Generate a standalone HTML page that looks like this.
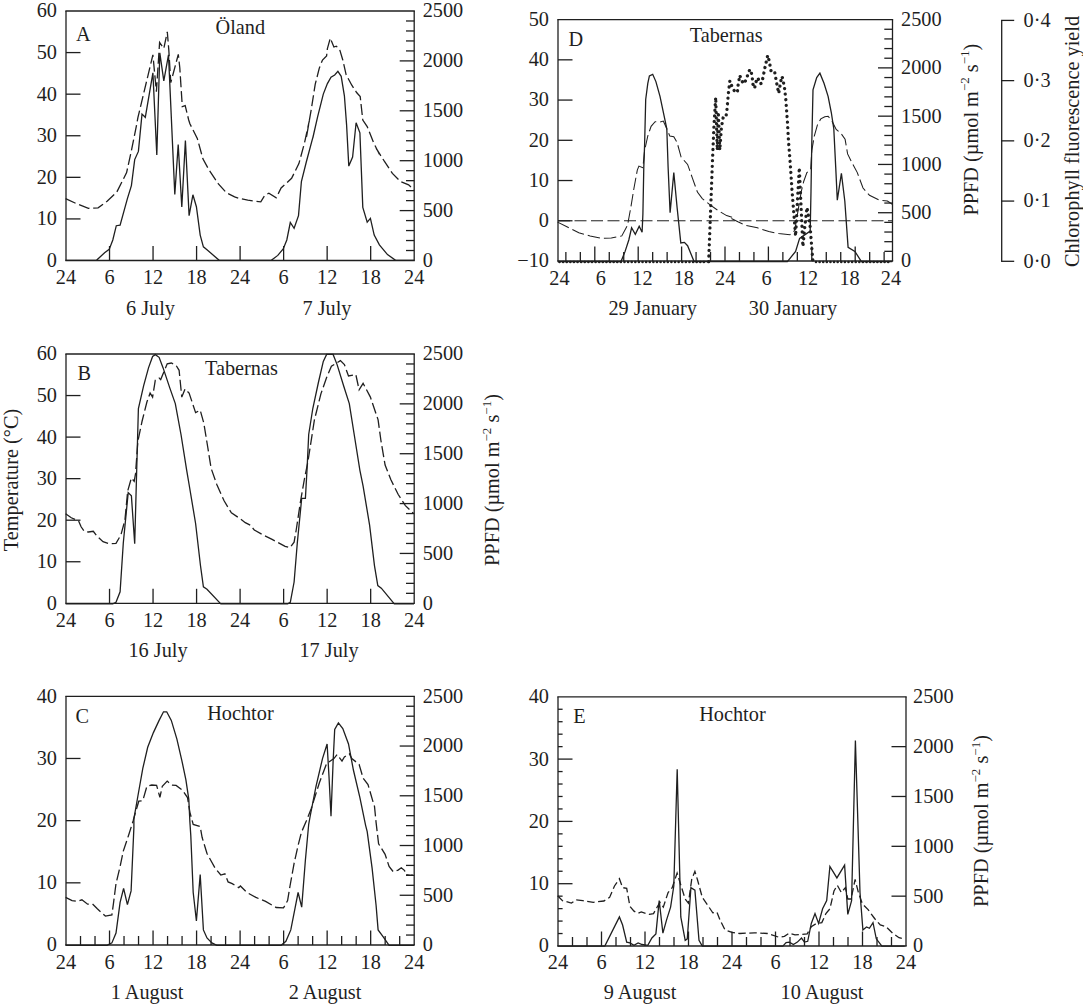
<!DOCTYPE html>
<html><head><meta charset="utf-8"><title>Figure</title>
<style>
html,body{margin:0;padding:0;background:#fff;}
svg{display:block;}
svg text{font-family:"Liberation Serif","DejaVu Serif",serif;font-size:20.3px;fill:#1f1f1f;}
svg line,svg polyline{stroke:#1f1f1f;}
</style></head><body>
<svg width="1083" height="1004" viewBox="0 0 1083 1004">
<rect width="1083" height="1004" fill="#fff"/>
<line x1="65.35" y1="11.00" x2="414.85" y2="11.00" stroke-width="1.3"/>
<line x1="65.35" y1="260.50" x2="414.85" y2="260.50" stroke-width="1.3"/>
<line x1="66.00" y1="11.00" x2="66.00" y2="260.50" stroke-width="1.3"/>
<line x1="414.20" y1="11.00" x2="414.20" y2="260.50" stroke-width="1.3"/>
<text x="57.00" y="266.90" text-anchor="end">0</text>
<line x1="66.00" y1="218.92" x2="80.50" y2="218.92" stroke-width="1.3"/>
<text x="57.00" y="225.32" text-anchor="end">10</text>
<line x1="66.00" y1="177.33" x2="80.50" y2="177.33" stroke-width="1.3"/>
<text x="57.00" y="183.73" text-anchor="end">20</text>
<line x1="66.00" y1="135.75" x2="80.50" y2="135.75" stroke-width="1.3"/>
<text x="57.00" y="142.15" text-anchor="end">30</text>
<line x1="66.00" y1="94.17" x2="80.50" y2="94.17" stroke-width="1.3"/>
<text x="57.00" y="100.57" text-anchor="end">40</text>
<line x1="66.00" y1="52.58" x2="80.50" y2="52.58" stroke-width="1.3"/>
<text x="57.00" y="58.98" text-anchor="end">50</text>
<text x="57.00" y="17.40" text-anchor="end">60</text>
<text x="422.70" y="266.90" text-anchor="start">0</text>
<line x1="399.70" y1="210.60" x2="414.20" y2="210.60" stroke-width="1.3"/>
<text x="422.70" y="217.00" text-anchor="start">500</text>
<line x1="399.70" y1="160.70" x2="414.20" y2="160.70" stroke-width="1.3"/>
<text x="422.70" y="167.10" text-anchor="start">1000</text>
<line x1="399.70" y1="110.80" x2="414.20" y2="110.80" stroke-width="1.3"/>
<text x="422.70" y="117.20" text-anchor="start">1500</text>
<line x1="399.70" y1="60.90" x2="414.20" y2="60.90" stroke-width="1.3"/>
<text x="422.70" y="67.30" text-anchor="start">2000</text>
<text x="422.70" y="17.40" text-anchor="start">2500</text>
<line x1="406.00" y1="250.52" x2="414.20" y2="250.52" stroke-width="1.3"/>
<line x1="406.00" y1="240.54" x2="414.20" y2="240.54" stroke-width="1.3"/>
<line x1="406.00" y1="230.56" x2="414.20" y2="230.56" stroke-width="1.3"/>
<line x1="406.00" y1="220.58" x2="414.20" y2="220.58" stroke-width="1.3"/>
<line x1="406.00" y1="200.62" x2="414.20" y2="200.62" stroke-width="1.3"/>
<line x1="406.00" y1="190.64" x2="414.20" y2="190.64" stroke-width="1.3"/>
<line x1="406.00" y1="180.66" x2="414.20" y2="180.66" stroke-width="1.3"/>
<line x1="406.00" y1="170.68" x2="414.20" y2="170.68" stroke-width="1.3"/>
<line x1="406.00" y1="150.72" x2="414.20" y2="150.72" stroke-width="1.3"/>
<line x1="406.00" y1="140.74" x2="414.20" y2="140.74" stroke-width="1.3"/>
<line x1="406.00" y1="130.76" x2="414.20" y2="130.76" stroke-width="1.3"/>
<line x1="406.00" y1="120.78" x2="414.20" y2="120.78" stroke-width="1.3"/>
<line x1="406.00" y1="100.82" x2="414.20" y2="100.82" stroke-width="1.3"/>
<line x1="406.00" y1="90.84" x2="414.20" y2="90.84" stroke-width="1.3"/>
<line x1="406.00" y1="80.86" x2="414.20" y2="80.86" stroke-width="1.3"/>
<line x1="406.00" y1="70.88" x2="414.20" y2="70.88" stroke-width="1.3"/>
<line x1="406.00" y1="50.92" x2="414.20" y2="50.92" stroke-width="1.3"/>
<line x1="406.00" y1="40.94" x2="414.20" y2="40.94" stroke-width="1.3"/>
<line x1="406.00" y1="30.96" x2="414.20" y2="30.96" stroke-width="1.3"/>
<line x1="406.00" y1="20.98" x2="414.20" y2="20.98" stroke-width="1.3"/>
<line x1="65.35" y1="354.00" x2="414.85" y2="354.00" stroke-width="1.3"/>
<line x1="65.35" y1="603.30" x2="414.85" y2="603.30" stroke-width="1.3"/>
<line x1="66.00" y1="354.00" x2="66.00" y2="603.30" stroke-width="1.3"/>
<line x1="414.20" y1="354.00" x2="414.20" y2="603.30" stroke-width="1.3"/>
<text x="57.00" y="609.70" text-anchor="end">0</text>
<line x1="66.00" y1="561.75" x2="80.50" y2="561.75" stroke-width="1.3"/>
<text x="57.00" y="568.15" text-anchor="end">10</text>
<line x1="66.00" y1="520.20" x2="80.50" y2="520.20" stroke-width="1.3"/>
<text x="57.00" y="526.60" text-anchor="end">20</text>
<line x1="66.00" y1="478.65" x2="80.50" y2="478.65" stroke-width="1.3"/>
<text x="57.00" y="485.05" text-anchor="end">30</text>
<line x1="66.00" y1="437.10" x2="80.50" y2="437.10" stroke-width="1.3"/>
<text x="57.00" y="443.50" text-anchor="end">40</text>
<line x1="66.00" y1="395.55" x2="80.50" y2="395.55" stroke-width="1.3"/>
<text x="57.00" y="401.95" text-anchor="end">50</text>
<text x="57.00" y="360.40" text-anchor="end">60</text>
<text x="422.70" y="609.70" text-anchor="start">0</text>
<line x1="399.70" y1="553.44" x2="414.20" y2="553.44" stroke-width="1.3"/>
<text x="422.70" y="559.84" text-anchor="start">500</text>
<line x1="399.70" y1="503.58" x2="414.20" y2="503.58" stroke-width="1.3"/>
<text x="422.70" y="509.98" text-anchor="start">1000</text>
<line x1="399.70" y1="453.72" x2="414.20" y2="453.72" stroke-width="1.3"/>
<text x="422.70" y="460.12" text-anchor="start">1500</text>
<line x1="399.70" y1="403.86" x2="414.20" y2="403.86" stroke-width="1.3"/>
<text x="422.70" y="410.26" text-anchor="start">2000</text>
<text x="422.70" y="360.40" text-anchor="start">2500</text>
<line x1="406.00" y1="593.33" x2="414.20" y2="593.33" stroke-width="1.3"/>
<line x1="406.00" y1="583.36" x2="414.20" y2="583.36" stroke-width="1.3"/>
<line x1="406.00" y1="573.38" x2="414.20" y2="573.38" stroke-width="1.3"/>
<line x1="406.00" y1="563.41" x2="414.20" y2="563.41" stroke-width="1.3"/>
<line x1="406.00" y1="543.47" x2="414.20" y2="543.47" stroke-width="1.3"/>
<line x1="406.00" y1="533.50" x2="414.20" y2="533.50" stroke-width="1.3"/>
<line x1="406.00" y1="523.52" x2="414.20" y2="523.52" stroke-width="1.3"/>
<line x1="406.00" y1="513.55" x2="414.20" y2="513.55" stroke-width="1.3"/>
<line x1="406.00" y1="493.61" x2="414.20" y2="493.61" stroke-width="1.3"/>
<line x1="406.00" y1="483.64" x2="414.20" y2="483.64" stroke-width="1.3"/>
<line x1="406.00" y1="473.66" x2="414.20" y2="473.66" stroke-width="1.3"/>
<line x1="406.00" y1="463.69" x2="414.20" y2="463.69" stroke-width="1.3"/>
<line x1="406.00" y1="443.75" x2="414.20" y2="443.75" stroke-width="1.3"/>
<line x1="406.00" y1="433.78" x2="414.20" y2="433.78" stroke-width="1.3"/>
<line x1="406.00" y1="423.80" x2="414.20" y2="423.80" stroke-width="1.3"/>
<line x1="406.00" y1="413.83" x2="414.20" y2="413.83" stroke-width="1.3"/>
<line x1="406.00" y1="393.89" x2="414.20" y2="393.89" stroke-width="1.3"/>
<line x1="406.00" y1="383.92" x2="414.20" y2="383.92" stroke-width="1.3"/>
<line x1="406.00" y1="373.94" x2="414.20" y2="373.94" stroke-width="1.3"/>
<line x1="406.00" y1="363.97" x2="414.20" y2="363.97" stroke-width="1.3"/>
<line x1="65.35" y1="696.30" x2="414.85" y2="696.30" stroke-width="1.3"/>
<line x1="65.35" y1="945.00" x2="414.85" y2="945.00" stroke-width="1.3"/>
<line x1="66.00" y1="696.30" x2="66.00" y2="945.00" stroke-width="1.3"/>
<line x1="414.20" y1="696.30" x2="414.20" y2="945.00" stroke-width="1.3"/>
<text x="57.00" y="951.40" text-anchor="end">0</text>
<line x1="66.00" y1="882.83" x2="80.50" y2="882.83" stroke-width="1.3"/>
<text x="57.00" y="889.23" text-anchor="end">10</text>
<line x1="66.00" y1="820.65" x2="80.50" y2="820.65" stroke-width="1.3"/>
<text x="57.00" y="827.05" text-anchor="end">20</text>
<line x1="66.00" y1="758.47" x2="80.50" y2="758.47" stroke-width="1.3"/>
<text x="57.00" y="764.87" text-anchor="end">30</text>
<text x="57.00" y="702.70" text-anchor="end">40</text>
<text x="422.70" y="951.40" text-anchor="start">0</text>
<line x1="399.70" y1="895.26" x2="414.20" y2="895.26" stroke-width="1.3"/>
<text x="422.70" y="901.66" text-anchor="start">500</text>
<line x1="399.70" y1="845.52" x2="414.20" y2="845.52" stroke-width="1.3"/>
<text x="422.70" y="851.92" text-anchor="start">1000</text>
<line x1="399.70" y1="795.78" x2="414.20" y2="795.78" stroke-width="1.3"/>
<text x="422.70" y="802.18" text-anchor="start">1500</text>
<line x1="399.70" y1="746.04" x2="414.20" y2="746.04" stroke-width="1.3"/>
<text x="422.70" y="752.44" text-anchor="start">2000</text>
<text x="422.70" y="702.70" text-anchor="start">2500</text>
<line x1="406.00" y1="935.05" x2="414.20" y2="935.05" stroke-width="1.3"/>
<line x1="406.00" y1="925.10" x2="414.20" y2="925.10" stroke-width="1.3"/>
<line x1="406.00" y1="915.16" x2="414.20" y2="915.16" stroke-width="1.3"/>
<line x1="406.00" y1="905.21" x2="414.20" y2="905.21" stroke-width="1.3"/>
<line x1="406.00" y1="885.31" x2="414.20" y2="885.31" stroke-width="1.3"/>
<line x1="406.00" y1="875.36" x2="414.20" y2="875.36" stroke-width="1.3"/>
<line x1="406.00" y1="865.42" x2="414.20" y2="865.42" stroke-width="1.3"/>
<line x1="406.00" y1="855.47" x2="414.20" y2="855.47" stroke-width="1.3"/>
<line x1="406.00" y1="835.57" x2="414.20" y2="835.57" stroke-width="1.3"/>
<line x1="406.00" y1="825.62" x2="414.20" y2="825.62" stroke-width="1.3"/>
<line x1="406.00" y1="815.68" x2="414.20" y2="815.68" stroke-width="1.3"/>
<line x1="406.00" y1="805.73" x2="414.20" y2="805.73" stroke-width="1.3"/>
<line x1="406.00" y1="785.83" x2="414.20" y2="785.83" stroke-width="1.3"/>
<line x1="406.00" y1="775.88" x2="414.20" y2="775.88" stroke-width="1.3"/>
<line x1="406.00" y1="765.94" x2="414.20" y2="765.94" stroke-width="1.3"/>
<line x1="406.00" y1="755.99" x2="414.20" y2="755.99" stroke-width="1.3"/>
<line x1="406.00" y1="736.09" x2="414.20" y2="736.09" stroke-width="1.3"/>
<line x1="406.00" y1="726.14" x2="414.20" y2="726.14" stroke-width="1.3"/>
<line x1="406.00" y1="716.20" x2="414.20" y2="716.20" stroke-width="1.3"/>
<line x1="406.00" y1="706.25" x2="414.20" y2="706.25" stroke-width="1.3"/>
<line x1="557.35" y1="19.60" x2="893.15" y2="19.60" stroke-width="1.3"/>
<line x1="557.35" y1="261.00" x2="893.15" y2="261.00" stroke-width="1.3"/>
<line x1="558.00" y1="19.60" x2="558.00" y2="261.00" stroke-width="1.3"/>
<line x1="892.50" y1="19.60" x2="892.50" y2="261.00" stroke-width="1.3"/>
<text x="549.00" y="267.40" text-anchor="end">−10</text>
<line x1="558.00" y1="220.77" x2="572.50" y2="220.77" stroke-width="1.3"/>
<text x="549.00" y="227.17" text-anchor="end">0</text>
<line x1="558.00" y1="180.53" x2="572.50" y2="180.53" stroke-width="1.3"/>
<text x="549.00" y="186.93" text-anchor="end">10</text>
<line x1="558.00" y1="140.30" x2="572.50" y2="140.30" stroke-width="1.3"/>
<text x="549.00" y="146.70" text-anchor="end">20</text>
<line x1="558.00" y1="100.07" x2="572.50" y2="100.07" stroke-width="1.3"/>
<text x="549.00" y="106.47" text-anchor="end">30</text>
<line x1="558.00" y1="59.83" x2="572.50" y2="59.83" stroke-width="1.3"/>
<text x="549.00" y="66.23" text-anchor="end">40</text>
<text x="549.00" y="26.00" text-anchor="end">50</text>
<text x="901.00" y="267.40" text-anchor="start">0</text>
<line x1="878.00" y1="212.72" x2="892.50" y2="212.72" stroke-width="1.3"/>
<text x="901.00" y="219.12" text-anchor="start">500</text>
<line x1="878.00" y1="164.44" x2="892.50" y2="164.44" stroke-width="1.3"/>
<text x="901.00" y="170.84" text-anchor="start">1000</text>
<line x1="878.00" y1="116.16" x2="892.50" y2="116.16" stroke-width="1.3"/>
<text x="901.00" y="122.56" text-anchor="start">1500</text>
<line x1="878.00" y1="67.88" x2="892.50" y2="67.88" stroke-width="1.3"/>
<text x="901.00" y="74.28" text-anchor="start">2000</text>
<text x="901.00" y="26.00" text-anchor="start">2500</text>
<line x1="884.30" y1="251.34" x2="892.50" y2="251.34" stroke-width="1.3"/>
<line x1="884.30" y1="241.69" x2="892.50" y2="241.69" stroke-width="1.3"/>
<line x1="884.30" y1="232.03" x2="892.50" y2="232.03" stroke-width="1.3"/>
<line x1="884.30" y1="222.38" x2="892.50" y2="222.38" stroke-width="1.3"/>
<line x1="884.30" y1="203.06" x2="892.50" y2="203.06" stroke-width="1.3"/>
<line x1="884.30" y1="193.41" x2="892.50" y2="193.41" stroke-width="1.3"/>
<line x1="884.30" y1="183.75" x2="892.50" y2="183.75" stroke-width="1.3"/>
<line x1="884.30" y1="174.10" x2="892.50" y2="174.10" stroke-width="1.3"/>
<line x1="884.30" y1="154.78" x2="892.50" y2="154.78" stroke-width="1.3"/>
<line x1="884.30" y1="145.13" x2="892.50" y2="145.13" stroke-width="1.3"/>
<line x1="884.30" y1="135.47" x2="892.50" y2="135.47" stroke-width="1.3"/>
<line x1="884.30" y1="125.82" x2="892.50" y2="125.82" stroke-width="1.3"/>
<line x1="884.30" y1="106.50" x2="892.50" y2="106.50" stroke-width="1.3"/>
<line x1="884.30" y1="96.85" x2="892.50" y2="96.85" stroke-width="1.3"/>
<line x1="884.30" y1="87.19" x2="892.50" y2="87.19" stroke-width="1.3"/>
<line x1="884.30" y1="77.54" x2="892.50" y2="77.54" stroke-width="1.3"/>
<line x1="884.30" y1="58.22" x2="892.50" y2="58.22" stroke-width="1.3"/>
<line x1="884.30" y1="48.57" x2="892.50" y2="48.57" stroke-width="1.3"/>
<line x1="884.30" y1="38.91" x2="892.50" y2="38.91" stroke-width="1.3"/>
<line x1="884.30" y1="29.26" x2="892.50" y2="29.26" stroke-width="1.3"/>
<line x1="557.35" y1="696.80" x2="906.65" y2="696.80" stroke-width="1.3"/>
<line x1="557.35" y1="946.00" x2="906.65" y2="946.00" stroke-width="1.3"/>
<line x1="558.00" y1="696.80" x2="558.00" y2="946.00" stroke-width="1.3"/>
<line x1="906.00" y1="696.80" x2="906.00" y2="946.00" stroke-width="1.3"/>
<text x="549.00" y="952.40" text-anchor="end">0</text>
<line x1="558.00" y1="883.70" x2="572.50" y2="883.70" stroke-width="1.3"/>
<text x="549.00" y="890.10" text-anchor="end">10</text>
<line x1="558.00" y1="821.40" x2="572.50" y2="821.40" stroke-width="1.3"/>
<text x="549.00" y="827.80" text-anchor="end">20</text>
<line x1="558.00" y1="759.10" x2="572.50" y2="759.10" stroke-width="1.3"/>
<text x="549.00" y="765.50" text-anchor="end">30</text>
<text x="549.00" y="703.20" text-anchor="end">40</text>
<line x1="558.00" y1="933.54" x2="562.60" y2="933.54" stroke-width="1.3"/>
<line x1="558.00" y1="921.08" x2="562.60" y2="921.08" stroke-width="1.3"/>
<line x1="558.00" y1="908.62" x2="562.60" y2="908.62" stroke-width="1.3"/>
<line x1="558.00" y1="896.16" x2="562.60" y2="896.16" stroke-width="1.3"/>
<line x1="558.00" y1="871.24" x2="562.60" y2="871.24" stroke-width="1.3"/>
<line x1="558.00" y1="858.78" x2="562.60" y2="858.78" stroke-width="1.3"/>
<line x1="558.00" y1="846.32" x2="562.60" y2="846.32" stroke-width="1.3"/>
<line x1="558.00" y1="833.86" x2="562.60" y2="833.86" stroke-width="1.3"/>
<line x1="558.00" y1="808.94" x2="562.60" y2="808.94" stroke-width="1.3"/>
<line x1="558.00" y1="796.48" x2="562.60" y2="796.48" stroke-width="1.3"/>
<line x1="558.00" y1="784.02" x2="562.60" y2="784.02" stroke-width="1.3"/>
<line x1="558.00" y1="771.56" x2="562.60" y2="771.56" stroke-width="1.3"/>
<line x1="558.00" y1="746.64" x2="562.60" y2="746.64" stroke-width="1.3"/>
<line x1="558.00" y1="734.18" x2="562.60" y2="734.18" stroke-width="1.3"/>
<line x1="558.00" y1="721.72" x2="562.60" y2="721.72" stroke-width="1.3"/>
<line x1="558.00" y1="709.26" x2="562.60" y2="709.26" stroke-width="1.3"/>
<text x="913.00" y="952.40" text-anchor="start">0</text>
<line x1="891.50" y1="896.16" x2="906.00" y2="896.16" stroke-width="1.3"/>
<text x="913.00" y="902.56" text-anchor="start">500</text>
<line x1="891.50" y1="846.32" x2="906.00" y2="846.32" stroke-width="1.3"/>
<text x="913.00" y="852.72" text-anchor="start">1000</text>
<line x1="891.50" y1="796.48" x2="906.00" y2="796.48" stroke-width="1.3"/>
<text x="913.00" y="802.88" text-anchor="start">1500</text>
<line x1="891.50" y1="746.64" x2="906.00" y2="746.64" stroke-width="1.3"/>
<text x="913.00" y="753.04" text-anchor="start">2000</text>
<text x="913.00" y="703.20" text-anchor="start">2500</text>
<line x1="109.53" y1="260.50" x2="109.53" y2="246.00" stroke-width="1.3"/>
<line x1="153.05" y1="260.50" x2="153.05" y2="246.00" stroke-width="1.3"/>
<line x1="196.58" y1="260.50" x2="196.58" y2="246.00" stroke-width="1.3"/>
<line x1="240.10" y1="260.50" x2="240.10" y2="246.00" stroke-width="1.3"/>
<line x1="283.62" y1="260.50" x2="283.62" y2="246.00" stroke-width="1.3"/>
<line x1="327.15" y1="260.50" x2="327.15" y2="246.00" stroke-width="1.3"/>
<line x1="370.67" y1="260.50" x2="370.67" y2="246.00" stroke-width="1.3"/>
<line x1="109.53" y1="603.30" x2="109.53" y2="588.80" stroke-width="1.3"/>
<line x1="153.05" y1="603.30" x2="153.05" y2="588.80" stroke-width="1.3"/>
<line x1="196.58" y1="603.30" x2="196.58" y2="588.80" stroke-width="1.3"/>
<line x1="240.10" y1="603.30" x2="240.10" y2="588.80" stroke-width="1.3"/>
<line x1="283.62" y1="603.30" x2="283.62" y2="588.80" stroke-width="1.3"/>
<line x1="327.15" y1="603.30" x2="327.15" y2="588.80" stroke-width="1.3"/>
<line x1="370.67" y1="603.30" x2="370.67" y2="588.80" stroke-width="1.3"/>
<line x1="80.51" y1="945.00" x2="80.51" y2="936.00" stroke-width="1.3"/>
<line x1="95.02" y1="945.00" x2="95.02" y2="936.00" stroke-width="1.3"/>
<line x1="109.53" y1="945.00" x2="109.53" y2="930.50" stroke-width="1.3"/>
<line x1="124.03" y1="945.00" x2="124.03" y2="936.00" stroke-width="1.3"/>
<line x1="138.54" y1="945.00" x2="138.54" y2="936.00" stroke-width="1.3"/>
<line x1="153.05" y1="945.00" x2="153.05" y2="930.50" stroke-width="1.3"/>
<line x1="167.56" y1="945.00" x2="167.56" y2="936.00" stroke-width="1.3"/>
<line x1="182.07" y1="945.00" x2="182.07" y2="936.00" stroke-width="1.3"/>
<line x1="196.58" y1="945.00" x2="196.58" y2="930.50" stroke-width="1.3"/>
<line x1="211.08" y1="945.00" x2="211.08" y2="936.00" stroke-width="1.3"/>
<line x1="225.59" y1="945.00" x2="225.59" y2="936.00" stroke-width="1.3"/>
<line x1="240.10" y1="945.00" x2="240.10" y2="930.50" stroke-width="1.3"/>
<line x1="254.61" y1="945.00" x2="254.61" y2="936.00" stroke-width="1.3"/>
<line x1="269.12" y1="945.00" x2="269.12" y2="936.00" stroke-width="1.3"/>
<line x1="283.62" y1="945.00" x2="283.62" y2="930.50" stroke-width="1.3"/>
<line x1="298.13" y1="945.00" x2="298.13" y2="936.00" stroke-width="1.3"/>
<line x1="312.64" y1="945.00" x2="312.64" y2="936.00" stroke-width="1.3"/>
<line x1="327.15" y1="945.00" x2="327.15" y2="930.50" stroke-width="1.3"/>
<line x1="341.66" y1="945.00" x2="341.66" y2="936.00" stroke-width="1.3"/>
<line x1="356.17" y1="945.00" x2="356.17" y2="936.00" stroke-width="1.3"/>
<line x1="370.67" y1="945.00" x2="370.67" y2="930.50" stroke-width="1.3"/>
<line x1="385.18" y1="945.00" x2="385.18" y2="936.00" stroke-width="1.3"/>
<line x1="399.69" y1="945.00" x2="399.69" y2="936.00" stroke-width="1.3"/>
<line x1="572.50" y1="946.00" x2="572.50" y2="937.00" stroke-width="1.3"/>
<line x1="587.00" y1="946.00" x2="587.00" y2="937.00" stroke-width="1.3"/>
<line x1="601.50" y1="946.00" x2="601.50" y2="931.50" stroke-width="1.3"/>
<line x1="616.00" y1="946.00" x2="616.00" y2="937.00" stroke-width="1.3"/>
<line x1="630.50" y1="946.00" x2="630.50" y2="937.00" stroke-width="1.3"/>
<line x1="645.00" y1="946.00" x2="645.00" y2="931.50" stroke-width="1.3"/>
<line x1="659.50" y1="946.00" x2="659.50" y2="937.00" stroke-width="1.3"/>
<line x1="674.00" y1="946.00" x2="674.00" y2="937.00" stroke-width="1.3"/>
<line x1="688.50" y1="946.00" x2="688.50" y2="931.50" stroke-width="1.3"/>
<line x1="703.00" y1="946.00" x2="703.00" y2="937.00" stroke-width="1.3"/>
<line x1="717.50" y1="946.00" x2="717.50" y2="937.00" stroke-width="1.3"/>
<line x1="732.00" y1="946.00" x2="732.00" y2="931.50" stroke-width="1.3"/>
<line x1="746.50" y1="946.00" x2="746.50" y2="937.00" stroke-width="1.3"/>
<line x1="761.00" y1="946.00" x2="761.00" y2="937.00" stroke-width="1.3"/>
<line x1="775.50" y1="946.00" x2="775.50" y2="931.50" stroke-width="1.3"/>
<line x1="790.00" y1="946.00" x2="790.00" y2="937.00" stroke-width="1.3"/>
<line x1="804.50" y1="946.00" x2="804.50" y2="937.00" stroke-width="1.3"/>
<line x1="819.00" y1="946.00" x2="819.00" y2="931.50" stroke-width="1.3"/>
<line x1="833.50" y1="946.00" x2="833.50" y2="937.00" stroke-width="1.3"/>
<line x1="848.00" y1="946.00" x2="848.00" y2="937.00" stroke-width="1.3"/>
<line x1="862.50" y1="946.00" x2="862.50" y2="931.50" stroke-width="1.3"/>
<line x1="877.00" y1="946.00" x2="877.00" y2="937.00" stroke-width="1.3"/>
<line x1="891.50" y1="946.00" x2="891.50" y2="937.00" stroke-width="1.3"/>
<line x1="565.87" y1="261.00" x2="565.87" y2="252.00" stroke-width="1.3"/>
<line x1="580.33" y1="261.00" x2="580.33" y2="252.00" stroke-width="1.3"/>
<line x1="594.80" y1="261.00" x2="594.80" y2="246.50" stroke-width="1.3"/>
<line x1="609.27" y1="261.00" x2="609.27" y2="252.00" stroke-width="1.3"/>
<line x1="623.73" y1="261.00" x2="623.73" y2="252.00" stroke-width="1.3"/>
<line x1="638.20" y1="261.00" x2="638.20" y2="246.50" stroke-width="1.3"/>
<line x1="652.67" y1="261.00" x2="652.67" y2="252.00" stroke-width="1.3"/>
<line x1="667.13" y1="261.00" x2="667.13" y2="252.00" stroke-width="1.3"/>
<line x1="681.60" y1="261.00" x2="681.60" y2="246.50" stroke-width="1.3"/>
<line x1="696.07" y1="261.00" x2="696.07" y2="252.00" stroke-width="1.3"/>
<line x1="710.53" y1="261.00" x2="710.53" y2="252.00" stroke-width="1.3"/>
<line x1="725.00" y1="261.00" x2="725.00" y2="246.50" stroke-width="1.3"/>
<line x1="739.47" y1="261.00" x2="739.47" y2="252.00" stroke-width="1.3"/>
<line x1="753.93" y1="261.00" x2="753.93" y2="252.00" stroke-width="1.3"/>
<line x1="768.40" y1="261.00" x2="768.40" y2="246.50" stroke-width="1.3"/>
<line x1="782.87" y1="261.00" x2="782.87" y2="252.00" stroke-width="1.3"/>
<line x1="797.33" y1="261.00" x2="797.33" y2="252.00" stroke-width="1.3"/>
<line x1="811.80" y1="261.00" x2="811.80" y2="246.50" stroke-width="1.3"/>
<line x1="826.27" y1="261.00" x2="826.27" y2="252.00" stroke-width="1.3"/>
<line x1="840.73" y1="261.00" x2="840.73" y2="252.00" stroke-width="1.3"/>
<line x1="855.20" y1="261.00" x2="855.20" y2="246.50" stroke-width="1.3"/>
<line x1="869.67" y1="261.00" x2="869.67" y2="252.00" stroke-width="1.3"/>
<line x1="884.13" y1="261.00" x2="884.13" y2="252.00" stroke-width="1.3"/>
<text x="66.00" y="284.20" text-anchor="middle">24</text>
<text x="109.53" y="284.20" text-anchor="middle">6</text>
<text x="153.05" y="284.20" text-anchor="middle">12</text>
<text x="196.57" y="284.20" text-anchor="middle">18</text>
<text x="240.10" y="284.20" text-anchor="middle">24</text>
<text x="283.62" y="284.20" text-anchor="middle">6</text>
<text x="327.15" y="284.20" text-anchor="middle">12</text>
<text x="370.68" y="284.20" text-anchor="middle">18</text>
<text x="414.20" y="284.20" text-anchor="middle">24</text>
<text x="66.00" y="627.00" text-anchor="middle">24</text>
<text x="109.53" y="627.00" text-anchor="middle">6</text>
<text x="153.05" y="627.00" text-anchor="middle">12</text>
<text x="196.57" y="627.00" text-anchor="middle">18</text>
<text x="240.10" y="627.00" text-anchor="middle">24</text>
<text x="283.62" y="627.00" text-anchor="middle">6</text>
<text x="327.15" y="627.00" text-anchor="middle">12</text>
<text x="370.68" y="627.00" text-anchor="middle">18</text>
<text x="414.20" y="627.00" text-anchor="middle">24</text>
<text x="66.00" y="969.00" text-anchor="middle">24</text>
<text x="109.53" y="969.00" text-anchor="middle">6</text>
<text x="153.05" y="969.00" text-anchor="middle">12</text>
<text x="196.57" y="969.00" text-anchor="middle">18</text>
<text x="240.10" y="969.00" text-anchor="middle">24</text>
<text x="283.62" y="969.00" text-anchor="middle">6</text>
<text x="327.15" y="969.00" text-anchor="middle">12</text>
<text x="370.68" y="969.00" text-anchor="middle">18</text>
<text x="414.20" y="969.00" text-anchor="middle">24</text>
<text x="559.50" y="284.50" text-anchor="middle">24</text>
<text x="600.94" y="284.50" text-anchor="middle">6</text>
<text x="642.38" y="284.50" text-anchor="middle">12</text>
<text x="683.81" y="284.50" text-anchor="middle">18</text>
<text x="725.25" y="284.50" text-anchor="middle">24</text>
<text x="766.69" y="284.50" text-anchor="middle">6</text>
<text x="808.12" y="284.50" text-anchor="middle">12</text>
<text x="849.56" y="284.50" text-anchor="middle">18</text>
<text x="891.00" y="284.50" text-anchor="middle">24</text>
<text x="558.00" y="969.00" text-anchor="middle">24</text>
<text x="601.50" y="969.00" text-anchor="middle">6</text>
<text x="645.00" y="969.00" text-anchor="middle">12</text>
<text x="688.50" y="969.00" text-anchor="middle">18</text>
<text x="732.00" y="969.00" text-anchor="middle">24</text>
<text x="775.50" y="969.00" text-anchor="middle">6</text>
<text x="819.00" y="969.00" text-anchor="middle">12</text>
<text x="862.50" y="969.00" text-anchor="middle">18</text>
<text x="906.00" y="969.00" text-anchor="middle">24</text>
<text x="150.50" y="314.50" text-anchor="middle">6 July</text>
<text x="327.00" y="314.50" text-anchor="middle">7 July</text>
<text x="158.00" y="657.00" text-anchor="middle">16 July</text>
<text x="329.00" y="657.00" text-anchor="middle">17 July</text>
<text x="147.00" y="999.00" text-anchor="middle">1 August</text>
<text x="325.00" y="999.00" text-anchor="middle">2 August</text>
<text x="652.70" y="314.50" text-anchor="middle">29 January</text>
<text x="793.00" y="314.50" text-anchor="middle">30 January</text>
<text x="640.00" y="999.00" text-anchor="middle">9 August</text>
<text x="822.00" y="999.00" text-anchor="middle">10 August</text>
<text x="76.00" y="40.50" text-anchor="start">A</text>
<text x="215.50" y="34.00" text-anchor="start">Öland</text>
<text x="77.50" y="379.50" text-anchor="start">B</text>
<text x="205.00" y="375.00" text-anchor="start">Tabernas</text>
<text x="75.50" y="722.60" text-anchor="start">C</text>
<text x="207.20" y="720.40" text-anchor="start">Hochtor</text>
<text x="568.40" y="46.00" text-anchor="start">D</text>
<text x="689.70" y="41.60" text-anchor="start">Tabernas</text>
<text x="573.30" y="722.80" text-anchor="start">E</text>
<text x="699.20" y="720.60" text-anchor="start">Hochtor</text>
<text transform="translate(18.00,480.00) rotate(-90)" text-anchor="middle">Temperature (°C)</text>
<text transform="translate(499.00,480.00) rotate(-90)" text-anchor="middle">PPFD (µmol m<tspan dy="-8.5" font-size="13">−2</tspan><tspan dy="8.5"> s</tspan><tspan dy="-8.5" font-size="13">−1</tspan><tspan dy="8.5">)</tspan></text>
<text transform="translate(977.50,129.60) rotate(-90)" text-anchor="middle">PPFD (µmol m<tspan dy="-8.5" font-size="13">−2</tspan><tspan dy="8.5"> s</tspan><tspan dy="-8.5" font-size="13">−1</tspan><tspan dy="8.5">)</tspan></text>
<text transform="translate(988.40,821.00) rotate(-90)" text-anchor="middle">PPFD (µmol m<tspan dy="-8.5" font-size="13">−2</tspan><tspan dy="8.5"> s</tspan><tspan dy="-8.5" font-size="13">−1</tspan><tspan dy="8.5">)</tspan></text>
<text transform="translate(1078.50,141.50) rotate(-90)" text-anchor="middle">Chlorophyll fluorescence yield</text>
<line x1="1001.70" y1="20.40" x2="1001.70" y2="261.30" stroke-width="1.3"/>
<line x1="1001.05" y1="261.30" x2="1014.20" y2="261.30" stroke-width="1.3"/>
<text x="1023.50" y="267.70" text-anchor="start">0·0</text>
<line x1="1001.05" y1="201.08" x2="1014.20" y2="201.08" stroke-width="1.3"/>
<text x="1023.50" y="207.48" text-anchor="start">0·1</text>
<line x1="1001.05" y1="140.85" x2="1014.20" y2="140.85" stroke-width="1.3"/>
<text x="1023.50" y="147.25" text-anchor="start">0·2</text>
<line x1="1001.05" y1="80.62" x2="1014.20" y2="80.62" stroke-width="1.3"/>
<text x="1023.50" y="87.03" text-anchor="start">0·3</text>
<line x1="1001.05" y1="20.40" x2="1014.20" y2="20.40" stroke-width="1.3"/>
<text x="1023.50" y="26.80" text-anchor="start">0·4</text>
<line x1="558" y1="220.77" x2="892.5" y2="220.77" stroke-width="1" stroke-dasharray="12 4.5"/>
<polyline points="65.6,260.3 96.5,260.3 104.6,252.7 109.2,249.4 112.8,240.0 116.3,225.7 120.1,225.1 127.4,198.6 131.4,185.6 134.7,159.6 138.4,151.4 142.0,114.1 145.3,117.3 152.9,72.8 156.8,155.0 159.8,52.9 163.8,80.8 168.5,54.9 174.8,194.5 178.2,144.6 181.8,207.0 185.4,140.6 189.1,215.6 192.9,194.8 196.4,206.7 200.2,235.1 203.4,246.8 207.0,249.8 219.2,260.3 271.3,260.3 277.8,255.4 283.2,248.9 286.8,240.0 290.3,222.5 294.1,228.3 298.5,215.6 301.4,181.5 306.3,162.0 312.8,137.6 312.8,138.0 317.6,116.9 323.3,94.1 327.4,83.6 331.0,77.1 334.7,75.0 337.9,71.4 341.2,76.3 344.4,95.8 346.6,125.0 348.8,166.1 352.6,157.1 356.1,122.7 359.9,132.8 362.8,207.5 367.2,222.1 370.4,218.4 374.2,235.1 379.4,244.9 387.5,254.6 395.6,260.3 414.0,260.3" fill="none" stroke-width="1.3" stroke-linejoin="miter"/>
<polyline points="65.6,198.6 77.0,203.9 88.4,208.3 98.1,207.8 107.1,201.3 116.8,192.1 126.6,172.6 131.4,150.6 136.3,126.3 137.9,117.6 152.9,54.9 156.4,91.7 159.6,42.4 163.8,48.4 167.3,31.8 168.8,49.9 170.8,82.7 178.3,54.4 179.8,67.8 182.3,106.7 185.2,105.7 188.7,120.0 189.9,123.8 197.3,138.4 202.9,158.8 208.6,169.3 218.4,183.9 226.5,192.9 234.6,196.9 240.0,198.6 247.8,200.2 260.8,201.8 264.8,195.3 268.9,193.2 276.2,197.8 281.1,188.0 291.6,178.3 298.9,163.6 304.6,142.5 309.5,119.8 306.3,138.0 311.1,110.4 315.2,84.4 319.3,68.1 322.5,60.0 326.6,55.9 327.4,48.6 330.3,38.1 333.9,47.0 336.3,46.2 339.6,49.4 342.8,60.0 346.1,74.6 351.8,85.2 356.6,92.5 360.2,96.6 362.8,120.1 367.2,126.6 373.7,142.9 379.4,154.3 376.1,148.2 384.3,161.2 392.4,173.4 400.5,181.5 408.6,184.8 414.0,189.6" fill="none" stroke-width="1.3" stroke-dasharray="11 3.8"/>
<polyline points="65.6,603.9 112.8,603.9 116.0,602.3 120.1,591.8 123.3,543.0 128.2,492.6 131.4,495.9 134.7,543.8 136.3,484.5 138.4,408.5 143.6,385.8 148.5,367.9 152.6,356.5 155.3,354.6 159.1,357.3 163.1,367.9 169.6,387.4 175.3,403.6 181.0,434.5 186.7,470.3 189.1,484.5 195.6,523.5 200.5,565.8 203.4,586.9 207.0,589.3 220.8,603.9 287.6,603.9 290.3,602.3 294.1,582.0 297.3,543.0 301.7,498.3 305.4,498.3 307.1,468.3 308.7,434.5 312.8,408.5 318.4,382.5 323.3,361.4 326.6,354.4 333.1,354.4 337.1,364.6 343.6,385.8 349.3,403.6 354.2,434.5 359.9,470.3 363.1,486.1 369.6,525.1 374.5,565.8 377.8,585.6 381.3,588.2 394.3,603.9 414.0,603.9" fill="none" stroke-width="1.3" stroke-linejoin="miter"/>
<polyline points="65.6,513.8 71.3,517.8 78.6,521.1 81.1,526.8 84.3,531.3 88.4,532.0 93.3,531.3 97.3,536.5 103.0,541.7 109.5,543.8 116.0,543.3 120.9,534.9 124.9,520.3 127.7,491.0 131.4,478.0 134.2,481.3 135.5,473.9 137.9,441.0 142.0,421.5 146.9,402.0 150.1,393.1 152.6,397.1 155.3,380.1 159.1,378.0 160.7,379.6 167.2,363.8 171.3,363.0 176.1,365.4 179.1,370.3 181.8,397.1 185.1,389.0 189.1,393.1 195.6,412.6 200.2,410.1 203.8,423.1 207.8,447.5 211.1,468.3 216.8,484.5 224.1,500.8 231.4,512.9 240.0,518.6 245.3,522.7 250.2,525.1 254.3,530.0 262.4,534.6 272.1,539.4 285.1,546.3 290.0,547.6 294.1,542.2 296.2,530.0 300.6,500.8 304.6,478.0 307.9,461.8 314.4,419.9 320.9,393.9 326.6,377.6 331.4,366.3 340.4,360.6 344.4,364.6 348.5,376.0 355.8,374.4 359.1,389.8 363.1,383.3 370.4,397.1 378.1,419.9 381.0,441.0 385.1,465.0 390.8,479.6 398.1,494.3 405.4,505.6 413.5,513.4" fill="none" stroke-width="1.3" stroke-dasharray="11 3.8"/>
<polyline points="65.6,945.3 107.1,945.3 111.9,942.9 116.0,933.1 120.1,902.3 123.6,888.4 127.4,904.7 131.1,890.9 133.9,827.5 133.9,818.8 137.9,796.0 142.8,768.4 147.7,747.3 153.4,732.6 159.1,720.4 163.5,711.8 166.7,711.8 171.3,720.4 176.9,739.1 181.8,760.3 185.9,779.8 188.8,799.3 189.9,822.0 190.8,835.6 193.2,892.5 196.4,920.9 200.2,874.6 203.4,929.9 207.0,938.0 211.9,942.9 216.8,945.3 281.1,945.3 285.9,941.3 290.8,929.9 294.9,908.8 298.1,892.5 301.7,907.1 305.4,860.0 308.7,824.3 310.3,815.5 316.0,786.3 322.5,758.6 327.1,744.0 329.0,776.5 331.0,816.3 333.1,761.9 334.7,729.4 338.4,722.9 342.8,728.6 348.5,744.0 353.4,770.0 359.9,797.6 365.6,825.3 367.2,831.6 372.1,868.1 376.1,905.5 378.1,929.9 383.4,937.2 389.1,945.3 414.0,945.3" fill="none" stroke-width="1.3" stroke-linejoin="miter"/>
<polyline points="65.6,897.4 72.1,900.6 77.0,901.4 81.9,899.8 87.6,904.2 92.4,903.9 97.3,908.8 105.4,916.1 111.9,914.9 113.6,902.3 116.0,883.6 120.1,866.5 123.3,851.1 129.0,834.0 133.1,821.0 135.5,812.3 138.8,801.2 142.8,800.6 146.9,786.3 151.8,785.0 156.6,785.4 159.9,797.3 162.3,786.3 167.2,781.1 171.3,785.0 176.1,785.4 182.6,790.3 187.5,797.6 189.9,812.3 193.2,824.4 200.2,826.6 202.1,837.3 207.0,853.5 215.1,868.1 220.8,875.0 224.9,873.8 228.1,881.9 232.2,883.6 238.7,887.6 240.4,886.0 246.9,892.5 255.9,897.4 265.6,901.4 276.2,907.5 283.5,907.9 287.6,900.6 290.0,886.0 294.1,863.3 298.1,845.4 301.4,832.4 306.3,821.0 311.1,809.0 319.3,783.0 326.6,763.5 333.9,758.6 337.1,754.6 339.6,757.8 342.0,761.1 344.4,757.0 349.3,753.8 351.8,758.6 359.1,764.3 363.1,778.1 368.0,784.6 373.7,804.1 374.5,806.4 376.1,822.6 378.6,843.8 385.1,854.3 389.1,866.5 393.2,871.7 398.1,870.1 401.3,867.8 404.6,870.6 405.4,874.6 410.3,875.4 412.7,875.0" fill="none" stroke-width="1.3" stroke-dasharray="11 3.8"/>
<polyline points="557.6,261.6 621.0,261.6 625.1,251.4 628.8,240.0 631.6,227.8 635.3,234.3 639.2,226.2 642.1,232.2 642.9,214.0 643.8,166.9 644.6,145.0 645.7,99.5 647.8,83.3 649.4,75.9 652.7,74.3 655.9,81.6 660.0,96.3 664.1,115.8 666.8,128.8 668.1,166.9 670.1,212.7 673.8,172.6 677.1,207.5 680.8,242.9 684.4,242.4 687.6,245.7 694.1,261.6 787.4,261.6 795.6,251.4 799.6,238.4 810.2,231.1 811.0,191.3 811.8,142.5 813.0,89.8 816.7,77.6 819.9,73.2 824.0,83.3 828.1,96.3 831.3,112.5 833.8,128.8 835.7,166.9 837.3,200.2 841.4,173.4 844.8,201.0 848.1,247.3 854.9,251.4 861.4,261.6 892.3,261.6" fill="none" stroke-width="1.3" stroke-linejoin="miter"/>
<polyline points="557.6,222.1 567.4,227.0 578.8,232.7 590.1,235.9 601.5,238.4 611.3,238.1 621.8,235.9 627.5,225.4 630.8,207.5 634.0,188.0 637.3,170.1 638.9,166.1 642.9,167.7 644.6,150.6 647.8,136.0 651.1,126.3 655.1,121.7 659.2,122.2 663.3,121.1 665.7,126.3 669.8,136.0 673.8,136.8 677.1,142.5 681.1,157.1 687.6,164.4 692.5,178.3 697.4,192.1 702.3,198.6 710.4,205.1 718.5,210.8 726.6,215.6 732.0,217.3 729.8,217.6 737.9,221.8 746.0,225.4 757.4,227.8 768.8,231.6 778.5,233.5 789.9,234.8 794.8,230.3 798.0,210.8 801.3,191.3 803.7,181.5 806.9,172.6 810.7,169.3 811.8,150.6 814.3,136.0 817.5,124.6 820.8,118.9 824.8,116.8 828.1,116.2 832.1,121.4 836.2,129.5 841.1,133.6 845.1,139.3 847.6,153.9 851.6,162.0 857.3,172.6 863.0,188.0 869.5,195.3 879.3,200.2 887.4,201.0 892.3,204.3" fill="none" stroke-width="1.05" stroke-dasharray="12.5 4"/>
<polyline points="559.5,262.0 707.0,262.0" fill="none" stroke-width="2.6" stroke-linecap="round" stroke-dasharray="0.01 3.6"/>
<polyline points="816.0,262.0 891.5,262.0" fill="none" stroke-width="2.6" stroke-linecap="round" stroke-dasharray="0.01 3.6"/>
<polyline points="708.6,261.6 709.5,240.0 711.0,200.0 712.5,160.0 714.0,125.0 715.7,97.3 717.3,150.0 718.3,112.0 719.8,150.0 721.4,127.6 723.4,116.2 726.1,115.9 726.9,110.2 728.4,93.3 729.9,80.8 731.9,86.3 734.9,91.8 737.4,92.3 737.8,86.8 739.8,75.4 740.8,78.3 743.3,83.8 745.6,80.8 747.8,74.9 749.8,69.4 751.3,72.4 752.3,77.8 752.8,83.8 754.6,88.3 755.8,82.3 757.8,77.8 760.3,83.8 761.6,83.3 762.9,77.8 765.2,66.4 767.7,55.4 769.2,60.9 771.2,71.9 774.7,72.1 776.7,83.3 778.7,93.3 779.7,87.3 781.7,76.4 782.7,78.3 784.7,89.3 785.9,100.3 786.7,111.7 787.5,122.7 788.4,139.6 790.0,160.0 792.0,190.0 795.6,236.0 797.5,200.0 799.3,167.7 801.0,205.0 802.9,246.5 805.0,225.0 807.0,207.5 810.0,225.0 812.6,258.0 813.0,262.0" fill="none" stroke-width="3.3" stroke-linecap="round" stroke-dasharray="0.01 5.6"/>
<polyline points="557.6,946.1 604.8,946.1 619.4,916.9 622.6,925.0 626.7,942.1 629.9,942.9 634.0,945.3 638.1,942.9 642.1,944.5 647.8,945.3 651.9,938.0 655.9,933.9 659.2,900.6 662.9,933.1 666.5,920.1 670.6,907.1 673.8,886.0 677.2,769.2 680.8,916.9 685.2,940.4 687.3,938.8 690.9,887.6 694.9,890.1 699.0,940.4 702.3,946.1 782.8,946.1 786.1,942.6 789.3,942.1 793.4,944.5 797.4,942.1 801.5,938.0 804.4,942.1 807.7,941.3 811.3,923.4 815.0,913.6 818.6,923.4 822.6,908.8 826.7,900.6 829.9,866.5 836.9,877.9 844.6,865.2 847.8,914.4 851.6,900.6 855.4,740.4 860.0,892.5 862.9,929.9 866.5,927.0 869.4,928.3 873.0,922.6 876.3,938.8 881.9,946.1 904.7,946.1" fill="none" stroke-width="1.3" stroke-linejoin="miter"/>
<polyline points="557.6,895.8 562.5,900.6 571.4,903.1 576.3,899.8 582.8,900.6 593.4,902.3 603.9,901.0 609.6,897.4 614.5,886.0 619.4,878.7 622.6,887.6 626.7,888.4 629.9,906.3 634.0,911.2 638.1,913.3 641.3,912.0 649.4,914.4 653.5,913.6 657.6,906.3 660.0,902.3 663.3,907.1 668.1,892.5 672.2,887.6 677.1,873.0 681.1,886.0 685.2,899.0 688.4,903.1 691.7,879.5 694.9,871.4 697.4,879.5 702.3,897.4 707.9,905.5 712.8,912.8 716.9,912.0 720.1,920.1 725.0,929.9 732.0,932.3 739.8,933.5 754.4,932.8 767.4,933.5 778.8,937.2 784.4,936.4 789.3,933.1 795.0,934.8 801.5,934.4 807.2,933.9 811.3,926.6 815.3,924.2 821.8,922.6 825.9,913.6 829.9,908.8 834.0,890.9 837.3,885.2 841.3,892.5 845.4,887.6 847.8,899.0 851.1,899.0 855.1,879.5 858.4,892.5 862.4,903.9 868.1,909.6 874.6,918.5 880.3,925.0 886.0,926.6 892.5,933.1 899.0,937.7 904.7,939.3" fill="none" stroke-width="1.3" stroke-dasharray="7.5 3.5"/>
</svg>
</body></html>
